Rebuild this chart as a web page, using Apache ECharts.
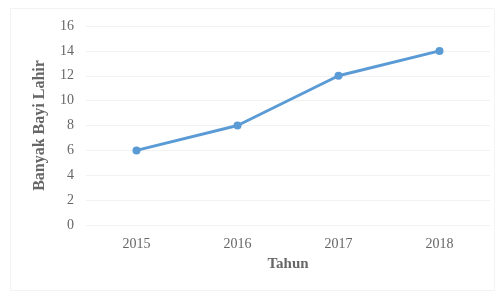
<!DOCTYPE html>
<html lang="id">
<head>
    <meta charset="UTF-8">
    <title>Banyak Bayi Lahir</title>
    <style>
        html, body { margin: 0; padding: 0; background: #fff; }
        #chart { width: 500px; height: 292px; }
    </style>
</head>
<body>
    <div id="chart"></div>
    <script src="https://cdn.jsdelivr.net/npm/echarts@6/dist/echarts.min.js"></script>
    <script>
        // data
        const tahun = ['2015', '2016', '2017', '2018'];
        const bayiLahir = [6, 8, 12, 14];

        const font = '"Liberation Serif", "DejaVu Serif", serif';
        const chart = echarts.init(document.getElementById('chart'));
        chart.setOption({
            backgroundColor: '#fff',
            animation: false,
            graphic: [{
                type: 'rect',
                shape: { x: 10.5, y: 8.5, width: 484, height: 282 },
                style: { fill: 'none', stroke: '#f3f3f3', lineWidth: 1 },
                silent: true
            }],
            grid: { left: 86, right: 10, top: 26, bottom: 67 },
            xAxis: {
                type: 'category',
                data: tahun,
                name: 'Tahun',
                nameLocation: 'middle',
                nameGap: 32,
                nameTextStyle: { fontFamily: font, fontWeight: 'bold', fontSize: 15, color: '#666' },
                axisLine: { show: false },
                axisTick: { show: false },
                axisLabel: { fontFamily: font, fontSize: 14, color: '#666', margin: 12 }
            },
            yAxis: {
                type: 'value',
                min: 0,
                max: 16,
                interval: 2,
                name: 'Banyak Bayi Lahir',
                nameLocation: 'middle',
                nameGap: 38,
                nameTextStyle: { fontFamily: font, fontWeight: 'bold', fontSize: 16, color: '#666' },
                axisLine: { show: false },
                axisTick: { show: false },
                axisLabel: { fontFamily: font, fontSize: 14, color: '#666', margin: 12 },
                splitLine: { lineStyle: { color: '#f2f2f2', width: 1 } }
            },
            series: [{
                type: 'line',
                data: bayiLahir,
                symbol: 'circle',
                symbolSize: 8,
                lineStyle: { color: '#5b9bd5', width: 3 },
                itemStyle: { color: '#5b9bd5' }
            }]
        });
    </script>
</body>
</html>
